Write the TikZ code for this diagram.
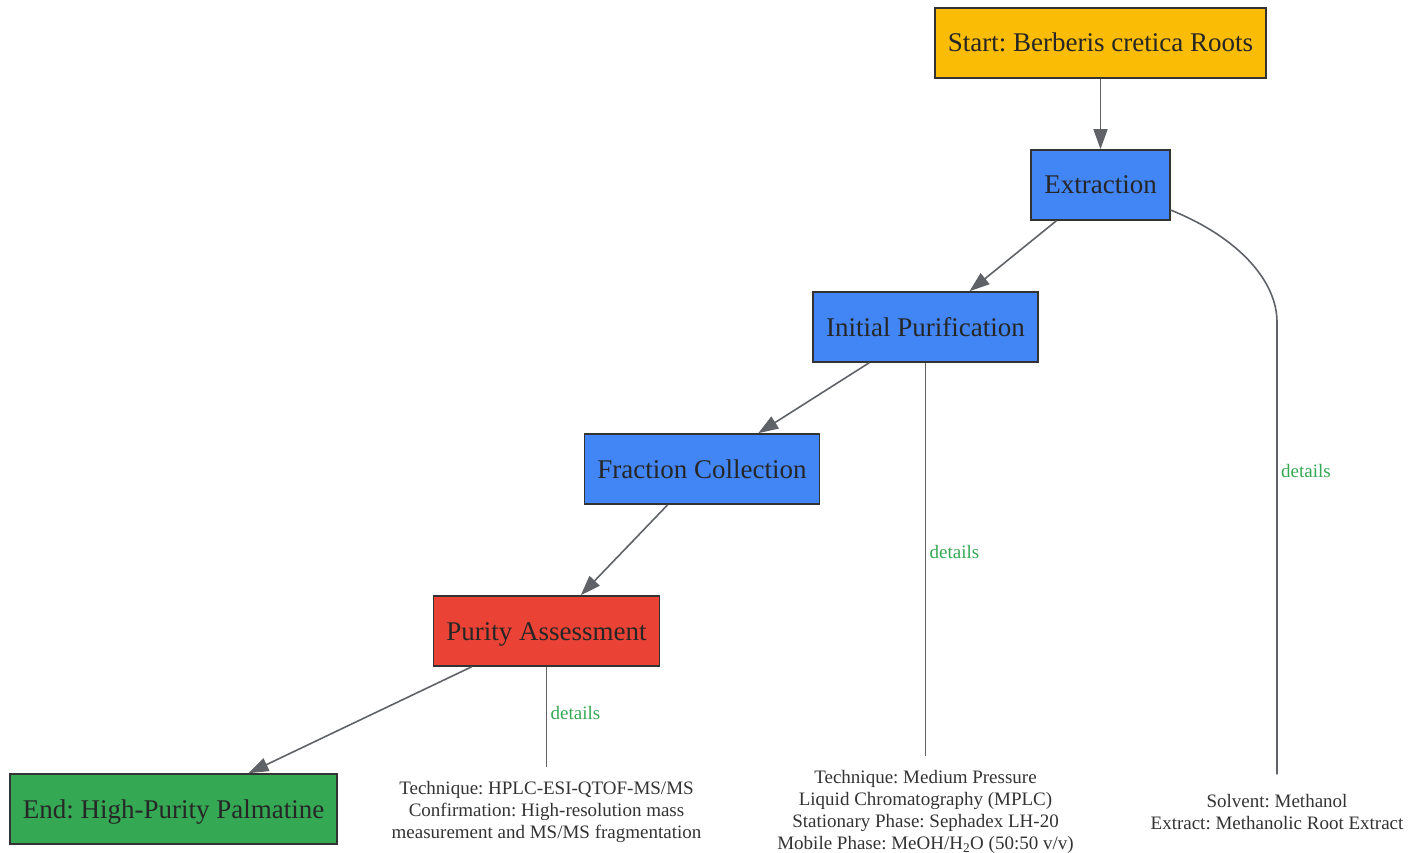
\documentclass[tikz,border=0pt]{standalone}
\usepackage{fontspec}
\setmainfont{Liberation Serif}
\frenchspacing
\usetikzlibrary{positioning,arrows.meta}
\definecolor{startyellow}{HTML}{FBBC05}
\definecolor{stepblue}{HTML}{4285F4}
\definecolor{checkred}{HTML}{EA4335}
\definecolor{endgreen}{HTML}{34A853}
\definecolor{edgegray}{HTML}{5F6368}
\definecolor{notegray}{HTML}{333333}

\begin{document}
\begin{tikzpicture}[x=1pt,y=-1pt,draw=edgegray,line width=1.6pt]
	\tikzstyle{box}=[rectangle,draw=black!80,line width=1.6pt,minimum height=70pt,inner xsep=13pt,text height=18pt,text depth=0pt,text=black!85,font=\fontsize{27}{32}\selectfont]
	\tikzstyle{start box}=[box, fill=startyellow];
	\tikzstyle{stage box}=[box, fill=stepblue];
	\tikzstyle{check box}=[box, fill=checkred];
	\tikzstyle{end box}=[box, fill=endgreen];
	\tikzstyle{flow}=[-{Triangle[length=20pt,width=14pt]}]
	\tikzstyle{note}=[align=center,inner sep=0pt,text=notegray,font=\fontsize{19}{22}\selectfont]
	\tikzstyle{detail label}=[right,text=endgreen,font=\fontsize{19}{22}\selectfont]

	\useasboundingbox (0,0) rectangle (1422,853);

	% Main stages of the isolation
	\node[start box] (start) at (1100.5,43) {Start: Berberis cretica Roots};
	\node[stage box] (extract) at (1100.5,185) {Extraction};
	\node[stage box] (purify) at (925.5,327) {Initial Purification};
	\node[stage box] (fraction) at (702,469) {Fraction Collection};
	\node[check box] (assess) at (546.5,631) {Purity Assessment};
	\node[end box] (final) at (173.5,809) {End: High-Purity Palmatine};

	% Notes with the details of some stages
	\node[note] (assessnote) at (546.5,812) {Technique: HPLC-ESI-QTOF-MS/MS\\Confirmation: High-resolution mass\\measurement and MS/MS fragmentation};
	\node[note] (purifynote) at (925.5,812) {Technique: Medium Pressure\\Liquid Chromatography (MPLC)\\Stationary Phase: Sephadex LH-20\\Mobile Phase: MeOH/H\textsubscript{2}O (50:50 v/v)};
	\node[note] (extractnote) at (1277,812) {Solvent: Methanol\\Extract: Methanolic Root Extract};

	% Connect the stages one after another
	\foreach \source/\dest in {start/extract,extract/purify,purify/fraction,fraction/assess,assess/final}
	\draw[flow] (\source) -- (\dest);

	% Connect stages to their notes
	\draw[shorten >=14pt] (assess) -- node[detail label,pos=0.41] {details} (assessnote);
	\draw[shorten >=14pt] (purify) -- node[detail label,pos=0.466] {details} (purifynote);
	\draw[shorten >=19pt] ([yshift=-25pt]extract.east) .. controls (1240,238) and (1277,282) .. (1277,322)
		-- node[detail label,pos=0.317] {details} (extractnote);
\end{tikzpicture}
\end{document}
